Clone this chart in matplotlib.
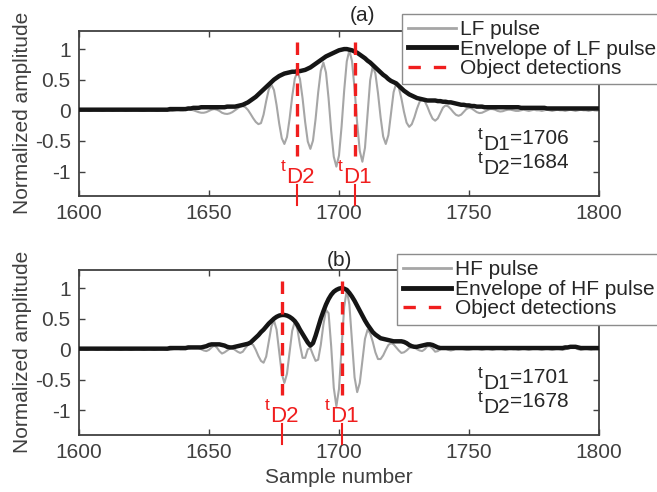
import numpy as np
import matplotlib
matplotlib.use('Agg')
import matplotlib.pyplot as plt
from matplotlib.lines import Line2D

# ---------------- data ----------------
samples = np.arange(1600, 1801)

lf_pulse = [
    0.00, 0.00, 0.01, 0.00, -0.01, 0.00, 0.01, 0.00, 0.00, -0.01,      # 1600
    0.00, 0.01, 0.00, -0.01, 0.00, 0.00, 0.01, 0.00, -0.01, 0.00,      # 1610
    0.00, 0.01, 0.01, 0.00, -0.01, -0.01, 0.00, 0.01, 0.00, 0.00,      # 1620
    -0.01, 0.00, 0.01, 0.01, 0.00, -0.01, -0.01, 0.00, 0.01, 0.00,     # 1630
    0.00, 0.01, 0.01, 0.01, 0.00, -0.015, -0.03, -0.04, -0.04, -0.03,  # 1640
    -0.01, 0.01, 0.02, 0.01, -0.01, -0.04, -0.055, -0.06, -0.05, -0.03,  # 1650
    0.00, 0.03, 0.06, 0.07, 0.05, 0.005, -0.06, -0.13, -0.19, -0.226,  # 1660
    -0.21, -0.07, 0.15, 0.34, 0.42, 0.33, 0.085, -0.215, -0.457, -0.55,  # 1670
    -0.437, -0.142, 0.222, 0.517, 0.63, 0.51, 0.195, -0.195, -0.51, -0.63,  # 1680
    -0.495, -0.143, 0.293, 0.645, 0.78, 0.618, 0.193, -0.333, -0.758, -0.92,  # 1690
    -0.739, -0.264, 0.324, 0.799, 0.98, 0.806, 0.351, -0.211, -0.666, -0.84,  # 1700
    -0.612, -0.06, 0.492, 0.72, 0.599, 0.281, -0.111, -0.429, -0.55, -0.405,  # 1710
    -0.055, 0.295, 0.44, 0.372, 0.195, -0.025, -0.202, -0.27, -0.227, -0.115,  # 1720
    0.025, 0.137, 0.18, 0.147, 0.059, -0.049, -0.137, -0.17, -0.133, -0.045,  # 1730
    0.043, 0.08, 0.064, 0.021, -0.031, -0.074, -0.09, -0.071, -0.025, 0.021,  # 1740
    0.04, 0.03, 0.00, -0.03, -0.045, -0.04, -0.02, 0.00, 0.02, 0.02,   # 1750
    0.01, -0.01, -0.02, -0.015, 0.00, 0.01, 0.01, 0.00, -0.01, -0.01,  # 1760
    0.00, 0.01, 0.00, -0.01, 0.00, 0.01, 0.00, 0.00, -0.01, 0.00,      # 1770
    0.01, 0.00, -0.01, 0.00, 0.01, 0.00, 0.00, -0.01, 0.00, 0.01,      # 1780
    0.00, -0.01, 0.00, 0.01, 0.00, 0.00, -0.01, 0.00, 0.01, 0.00,      # 1790
    0.00,                                                              # 1800
]

lf_envelope = [
    0.01, 0.01, 0.01, 0.01, 0.01, 0.01, 0.01, 0.01, 0.01, 0.01,  # 1600
    0.01, 0.01, 0.01, 0.01, 0.01, 0.01, 0.01, 0.01, 0.01, 0.01,  # 1610
    0.01, 0.01, 0.01, 0.01, 0.01, 0.01, 0.01, 0.01, 0.01, 0.01,  # 1620
    0.01, 0.01, 0.01, 0.01, 0.01, 0.02, 0.02, 0.02, 0.02, 0.02,  # 1630
    0.02, 0.02, 0.03, 0.03, 0.04, 0.04, 0.04, 0.05, 0.05, 0.05,  # 1640
    0.05, 0.05, 0.05, 0.05, 0.05, 0.05, 0.05, 0.06, 0.06, 0.06,  # 1650
    0.06, 0.07, 0.08, 0.09, 0.11, 0.13, 0.16, 0.19, 0.22, 0.26,  # 1660
    0.30, 0.34, 0.38, 0.42, 0.46, 0.50, 0.53, 0.56, 0.58, 0.60,  # 1670
    0.61, 0.62, 0.63, 0.63, 0.64, 0.64, 0.65, 0.66, 0.68, 0.70,  # 1680
    0.73, 0.76, 0.79, 0.82, 0.85, 0.88, 0.90, 0.92, 0.94, 0.96,  # 1690
    0.98, 0.99, 1.00, 1.00, 0.99, 0.98, 0.96, 0.94, 0.91, 0.88,  # 1700
    0.85, 0.81, 0.78, 0.74, 0.70, 0.66, 0.62, 0.58, 0.55, 0.51,  # 1710
    0.48, 0.46, 0.44, 0.40, 0.36, 0.32, 0.29, 0.26, 0.24, 0.22,  # 1720
    0.20, 0.19, 0.18, 0.17, 0.16, 0.16, 0.16, 0.16, 0.15, 0.15,  # 1730
    0.14, 0.14, 0.13, 0.13, 0.12, 0.11, 0.10, 0.09, 0.09, 0.08,  # 1740
    0.08, 0.07, 0.07, 0.06, 0.06, 0.06, 0.05, 0.05, 0.05, 0.05,  # 1750
    0.05, 0.05, 0.05, 0.05, 0.05, 0.05, 0.05, 0.05, 0.05, 0.05,  # 1760
    0.04, 0.04, 0.04, 0.04, 0.04, 0.04, 0.04, 0.04, 0.04, 0.04,  # 1770
    0.03, 0.03, 0.03, 0.03, 0.03, 0.03, 0.03, 0.03, 0.03, 0.03,  # 1780
    0.03, 0.03, 0.03, 0.03, 0.03, 0.03, 0.03, 0.03, 0.03, 0.03,  # 1790
    0.03,                                                        # 1800
]

hf_pulse = [
    0.00, 0.01, 0.00, -0.01, 0.00, 0.01, 0.00, -0.01, 0.00, 0.01,   # 1600
    0.00, -0.01, 0.00, 0.01, 0.00, 0.00, -0.01, 0.00, 0.01, 0.00,   # 1610
    -0.01, 0.00, 0.01, 0.01, 0.00, -0.01, 0.00, 0.01, 0.00, -0.01,  # 1620
    0.00, 0.01, 0.01, 0.00, -0.01, -0.01, 0.00, 0.01, 0.01, 0.00,   # 1630
    0.00, 0.00, 0.01, 0.02, 0.03, 0.03, 0.02, 0.00, -0.02, -0.03,   # 1640
    -0.01, 0.03, 0.06, 0.03, -0.03, -0.07, -0.05, -0.02, 0.01, 0.02,  # 1650
    -0.01, -0.04, -0.06, -0.04, 0.02, 0.07, 0.10, 0.07, -0.01, -0.11,  # 1660
    -0.19, -0.22, -0.12, 0.13, 0.37, 0.47, 0.32, -0.04, -0.40, -0.55,  # 1670
    -0.40, -0.05, 0.30, 0.45, 0.33, 0.07, -0.14, -0.14, 0.00, 0.02,  # 1680
    -0.09, -0.19, -0.17, 0.07, 0.40, 0.64, 0.59, 0.05, -0.63, -0.93,  # 1690
    -0.65, 0.02, 0.69, 0.97, 0.73, 0.14, -0.46, -0.70, -0.55, -0.19,  # 1700
    0.17, 0.32, 0.26, 0.12, -0.05, -0.16, -0.16, -0.10, -0.01, 0.07,  # 1710
    0.10, 0.08, 0.03, -0.02, -0.06, -0.05, -0.02, 0.02, 0.04, 0.03,  # 1720
    0.00, -0.02, -0.03, 0.00, 0.05, 0.05, 0.01, -0.04, -0.03, 0.00,  # 1730
    0.02, 0.01, -0.01, -0.02, -0.01, 0.01, 0.02, 0.01, 0.00, -0.01,  # 1740
    -0.01, 0.00, 0.01, 0.01, 0.00, -0.01, 0.00, 0.01, 0.00, -0.01,  # 1750
    0.00, 0.01, 0.01, 0.00, -0.01, 0.00, 0.01, 0.00, 0.00, -0.01,   # 1760
    0.00, 0.01, 0.00, -0.01, 0.00, 0.01, 0.01, 0.00, -0.01, 0.00,   # 1770
    0.01, 0.00, -0.01, 0.00, 0.01, 0.00, -0.01, 0.00, 0.02, 0.04,   # 1780
    0.04, 0.02, 0.00, -0.01, 0.00, 0.01, 0.00, -0.01, 0.00, 0.01,   # 1790
    0.00,                                                           # 1800
]

hf_envelope = [
    0.01, 0.01, 0.01, 0.01, 0.01, 0.01, 0.01, 0.01, 0.01, 0.01,  # 1600
    0.01, 0.01, 0.01, 0.01, 0.01, 0.01, 0.01, 0.01, 0.01, 0.01,  # 1610
    0.01, 0.01, 0.01, 0.01, 0.01, 0.01, 0.01, 0.01, 0.01, 0.01,  # 1620
    0.01, 0.01, 0.01, 0.01, 0.01, 0.02, 0.02, 0.02, 0.02, 0.02,  # 1630
    0.02, 0.02, 0.03, 0.03, 0.03, 0.03, 0.03, 0.03, 0.04, 0.05,  # 1640
    0.07, 0.08, 0.08, 0.08, 0.08, 0.07, 0.06, 0.04, 0.03, 0.03,  # 1650
    0.04, 0.05, 0.06, 0.07, 0.08, 0.09, 0.11, 0.15, 0.19, 0.23,  # 1660
    0.28, 0.32, 0.37, 0.42, 0.46, 0.50, 0.53, 0.55, 0.56, 0.56,  # 1670
    0.55, 0.53, 0.50, 0.46, 0.40, 0.32, 0.25, 0.18, 0.11, 0.06,  # 1680
    0.10, 0.22, 0.36, 0.50, 0.62, 0.73, 0.82, 0.89, 0.94, 0.97,  # 1690
    0.99, 1.00, 0.99, 0.97, 0.92, 0.86, 0.79, 0.71, 0.63, 0.55,  # 1700
    0.47, 0.40, 0.34, 0.28, 0.24, 0.21, 0.18, 0.17, 0.16, 0.15,  # 1710
    0.14, 0.13, 0.13, 0.13, 0.13, 0.12, 0.10, 0.07, 0.05, 0.04,  # 1720
    0.04, 0.05, 0.06, 0.07, 0.08, 0.08, 0.07, 0.05, 0.03, 0.02,  # 1730
    0.02, 0.02, 0.02, 0.02, 0.02, 0.02, 0.02, 0.02, 0.02, 0.02,  # 1740
    0.02, 0.02, 0.02, 0.02, 0.02, 0.02, 0.02, 0.02, 0.02, 0.02,  # 1750
    0.02, 0.02, 0.02, 0.02, 0.02, 0.02, 0.02, 0.02, 0.02, 0.02,  # 1760
    0.02, 0.02, 0.02, 0.02, 0.02, 0.02, 0.02, 0.02, 0.02, 0.02,  # 1770
    0.02, 0.02, 0.02, 0.02, 0.02, 0.02, 0.02, 0.03, 0.03, 0.04,  # 1780
    0.04, 0.04, 0.03, 0.02, 0.02, 0.02, 0.02, 0.02, 0.02, 0.02,  # 1790
    0.02,                                                        # 1800
]

lf_detections = [1706, 1684]   # t_D1, t_D2
hf_detections = [1701, 1678]
detection_names = ['D1', 'D2']
x_ticks = [1600, 1650, 1700, 1750, 1800]
y_ticks = [-1, -0.5, 0, 0.5, 1]
y_tick_labels = ['-1', '-0.5', '0', '0.5', '1']

# ---------------- style ----------------
plt.rcParams['font.family'] = ['Liberation Sans', 'DejaVu Sans']
plt.rcParams['axes.unicode_minus'] = False

GRAY = '#a6a6a6'
BLACK = '#151515'
RED = '#f01e1e'
AXC = '#404040'
TXT = '#262626'
FS = 15

fig = plt.figure(figsize=(6.57, 4.92), dpi=100)
ax1 = fig.add_axes([0.1202, 0.6016, 0.7915, 0.336])
ax2 = fig.add_axes([0.1202, 0.1159, 0.7915, 0.336])
renderer = fig.canvas.get_renderer()


def pieces_text(ax, x, y, pieces, color, ha='left', gap=0.3):
    """Place consecutive text pieces (string, size, vertical offset pt)."""
    objs, widths = [], []
    for s, fs, dy in pieces:
        t = ax.annotate(s, xy=(x, y), xycoords='data', xytext=(0, dy),
                        textcoords='offset points', ha='left',
                        va='baseline', fontsize=fs, color=color,
                        annotation_clip=False, zorder=6)
        objs.append(t)
        widths.append(t.get_window_extent(renderer).width * 72 / fig.dpi)
    total = sum(widths) + gap * (len(widths) - 1)
    start = -total / 2 if ha == 'center' else 0
    for t, w, (s, fs, dy) in zip(objs, widths, pieces):
        t.xyann = (start, dy)
        start += w + gap


def draw(ax, pulse, env, det, title, title_pos, labels, leg_anchor):
    ax.plot(samples, pulse, color=GRAY, lw=1.5, zorder=2)
    ax.plot(samples, env, color=BLACK, lw=3.2, zorder=3,
            solid_capstyle='butt')
    for d, name in zip(det, detection_names):
        ax.plot([d, d], [1.12, -0.75], color=RED, lw=2.4,
                dashes=(3.75, 2.4), zorder=4)
        pieces_text(ax, d, -1.18, [('t', 12.5, 8.5), (name, 16, 0)],
                    RED, ha='center')
        ax.plot([d, d], [-1.22, -1.55], color=RED, lw=1.5, clip_on=False,
                zorder=5)
    pieces_text(ax, 1753.5, -0.55,
                [('t', 12.5, 3.5), ('D1', FS, -4.5),
                 ('=' + str(det[0]), FS, 0)], TXT)
    pieces_text(ax, 1753.5, -0.94,
                [('t', 12.5, 3.5), ('D2', FS, -4.5),
                 ('=' + str(det[1]), FS, 0)], TXT)

    ax.set_xlim(1600, 1800)
    ax.set_ylim(-1.4, 1.3)
    ax.set_xticks(x_ticks)
    ax.set_xticklabels([str(t) for t in x_ticks])
    ax.set_yticks(y_ticks)
    ax.set_yticklabels(y_tick_labels)
    ax.tick_params(direction='in', top=True, right=True, length=4.5,
                   width=1.0, color=AXC, labelsize=FS, labelcolor=AXC,
                   pad=6)
    for s in ax.spines.values():
        s.set_color(AXC)
        s.set_linewidth(1.3)
    ax.set_ylabel('Normalized amplitude', fontsize=FS, color=AXC)
    ax.yaxis.set_label_coords(-0.09, 0.5)
    ax.text(title_pos[0], title_pos[1], title, transform=ax.transAxes,
            ha='center', va='center', fontsize=FS, color=TXT)

    handles = [Line2D([], [], color=GRAY, lw=2.0),
               Line2D([], [], color=BLACK, lw=3.5),
               Line2D([], [], color=RED, lw=2.4, dashes=(3.7, 3.9))]
    leg = ax.legend(handles, labels, loc='upper left',
                    bbox_to_anchor=leg_anchor,
                    bbox_transform=fig.transFigure, borderaxespad=0,
                    frameon=True, fancybox=False, edgecolor='#8c8c8c',
                    framealpha=1, fontsize=FS, handlelength=2.3,
                    handletextpad=0.2, labelspacing=0.03, borderpad=0.3)
    leg.get_frame().set_linewidth(1.0)
    for t in leg.get_texts():
        t.set_color(TXT)
    leg.set_zorder(10)


draw(ax1, lf_pulse, lf_envelope, lf_detections, '(a)', (0.546, 1.089),
     ['LF pulse', 'Envelope of LF pulse', 'Object detections'],
     (401.7 / 657, 1 - 13.7 / 492))
draw(ax2, hf_pulse, hf_envelope, hf_detections, '(b)', (0.5, 1.053),
     ['HF pulse', 'Envelope of HF pulse', 'Object detections'],
     (397 / 657, 1 - 254 / 492))

ax2.set_xlabel('Sample number', fontsize=FS, color=AXC)
ax2.xaxis.set_label_coords(0.5, -0.2)
ax2.xaxis.label.set_va('top')

fig.savefig('out.png', dpi=100)
